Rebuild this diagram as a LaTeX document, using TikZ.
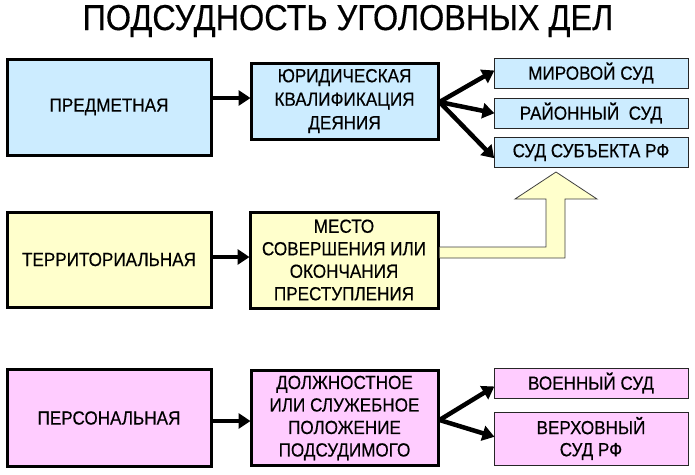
\documentclass[tikz,border=0pt]{standalone}
\usepackage{fontspec}
\setmainfont{Liberation Sans}[FakeStretch=0.9, FakeBold=0.4]
\usetikzlibrary{arrows.meta}
\definecolor{bbl}{HTML}{CCECFF}
\definecolor{yel}{HTML}{FFFFCC}
\definecolor{pnk}{HTML}{FFCCFF}
\tikzset{
  bigbox/.style={draw=black, line width=3pt, minimum width=#1, inner sep=0pt, align=center,
     font=\fontsize{19}{22.5}\selectfont},
  bigbox/.default=204pt,
  court/.style={draw=black!85, line width=1pt, minimum width=194pt, inner sep=0pt, align=center,
     font=\fontsize{19}{22}\selectfont},
  arr/.style={line width=4.5pt, -{Triangle[length=12pt,width=15pt]}, shorten >=-1pt},
}
\begin{document}
\begin{tikzpicture}[x=1pt,y=-1pt]
\useasboundingbox (0,0) rectangle (695,474);
\node[font=\fontsize{36}{40}\selectfont, anchor=base] (title) at (348,30) {ПОДСУДНОСТЬ УГОЛОВНЫХ ДЕЛ};

% row 1
\node[bigbox, fill=bbl, minimum height=96pt] (pred) at (109,107) {ПРЕДМЕТНАЯ};
\node[bigbox=187pt, fill=bbl, minimum height=76pt] (jur) at (344.5,101) {ЮРИДИЧЕСКАЯ\\[1pt]КВАЛИФИКАЦИЯ\\[1pt]ДЕЯНИЯ};
\node[court, fill=bbl, minimum height=30pt] (mir) at (591,73) {МИРОВОЙ СУД};
\node[court, fill=bbl, minimum height=30pt] (rai) at (591,113) {РАЙОННЫЙ\ \ СУД};
\node[court, fill=bbl, minimum height=30pt] (subj) at (591,152.5) {СУД СУБЪЕКТА РФ};

% row 2
\node[bigbox, fill=yel, minimum height=95pt] (terr) at (109,259.5) {ТЕРРИТОРИАЛЬНАЯ};
\node[bigbox=188pt, fill=yel, minimum height=96pt] (mesto) at (344,260) {МЕСТО\\СОВЕРШЕНИЯ ИЛИ\\ОКОНЧАНИЯ\\ПРЕСТУПЛЕНИЯ};

% row 3
\node[bigbox, fill=pnk, minimum height=97pt] (pers) at (109,418) {ПЕРСОНАЛЬНАЯ};
\node[bigbox=187pt, fill=pnk, minimum height=95pt] (dolzh) at (344.5,418) {ДОЛЖНОСТНОЕ\\ИЛИ СЛУЖЕБНОЕ\\ПОЛОЖЕНИЕ\\ПОДСУДИМОГО};
\node[court, fill=pnk, minimum height=30pt] (voen) at (591,383) {ВОЕННЫЙ СУД};
\node[court, fill=pnk, minimum height=53pt] (verh) at (591,438.5) {ВЕРХОВНЫЙ\\СУД РФ};

% arrows
\draw[arr] (pred.east |- 0,98) -- (jur.west |- 0,98);
\draw[arr] (terr.east |- 0,257) -- (mesto.west |- 0,257);
\draw[arr] (pers.east |- 0,421) -- (dolzh.west |- 0,421);

\coordinate (jo) at ([yshift=-1pt]jur.east);
\draw[arr] (jo) -- ([yshift=2pt]mir.west);
\draw[arr] (jo) -- (rai.west);
\draw[arr] (jo) -- ([yshift=-5pt]subj.west);

\coordinate (do) at ([yshift=-2pt]dolzh.east);
\draw[arr] (do) -- ([yshift=-4pt]voen.west);
\draw[arr] (do) -- ([yshift=2pt]verh.west);

% block arrow from mesto to subj
\draw[draw=black!75, line width=0.8pt, fill=yel, line join=miter]
  (mesto.east |- 0,247) -- (546,247) -- (546,199) -- (515,199) -- (556,172)
  -- (597,199) -- (565,199) -- (565,258) -- (mesto.east |- 0,258);
\end{tikzpicture}
\end{document}
